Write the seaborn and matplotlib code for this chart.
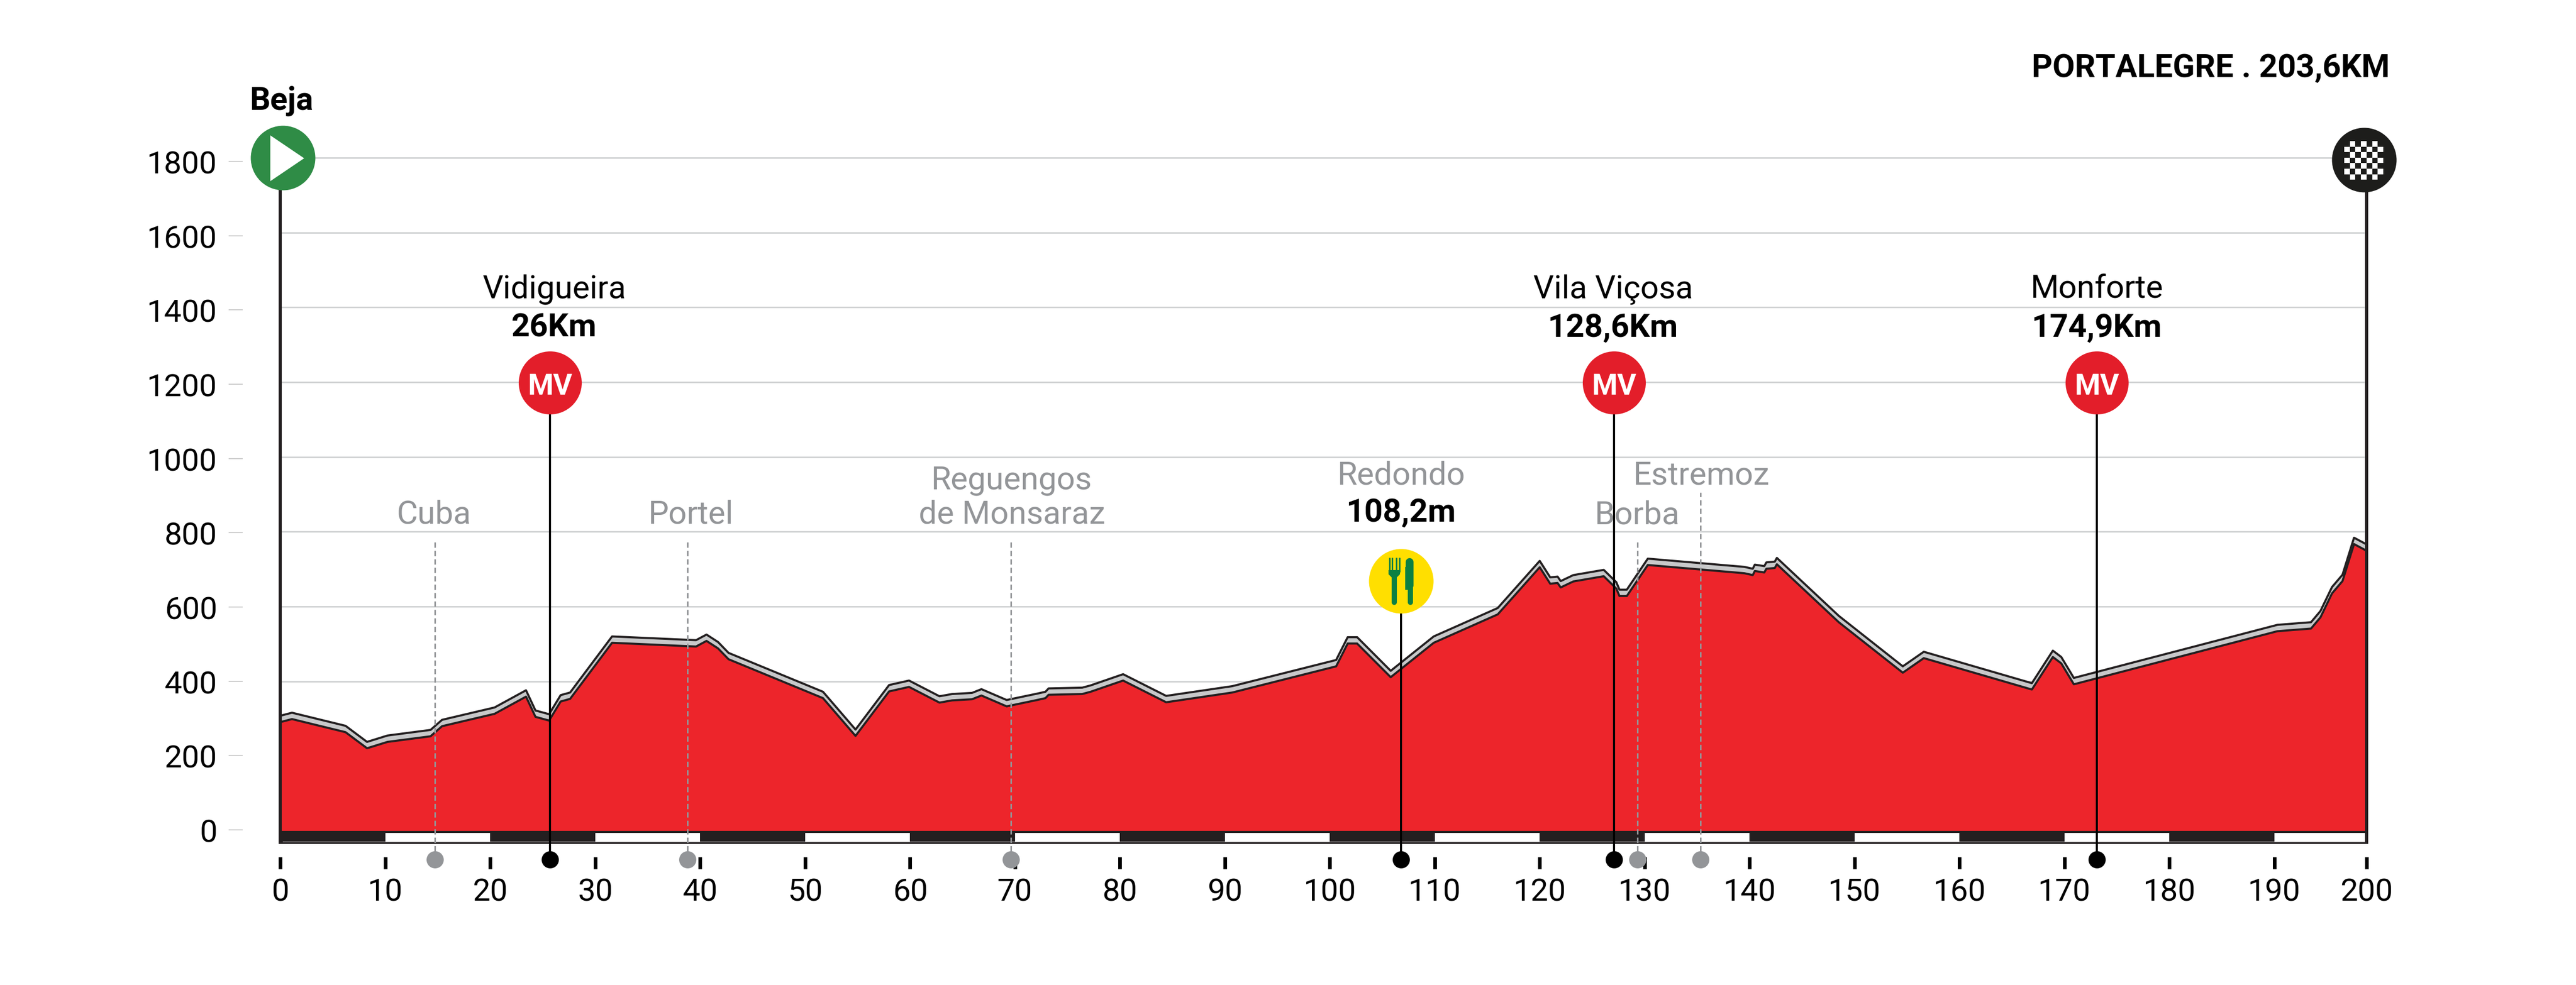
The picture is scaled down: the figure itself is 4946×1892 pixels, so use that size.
import matplotlib
matplotlib.use("Agg")
import matplotlib.pyplot as plt
import seaborn as sns
import numpy as np
import pandas as pd
from matplotlib.patches import Rectangle, Polygon
from matplotlib.lines import Line2D
from matplotlib.transforms import Affine2D

# ---------- data ----------
KM = [0, 1.1, 6.2, 8.25, 10.2, 14.3, 15.4, 20.4, 23.4, 24.3, 25.6, 26.7, 27.6, 31.6, 39.6, 40.6, 41.7, 42.7,
      51.7, 54.8, 58, 59.9, 62.8, 64, 65.9, 66.8, 69.2, 72.1, 72.9, 73.2, 76.4, 77.2, 80.3, 84.4, 90.7,
      100.6, 101.7, 102.6, 105.8, 109.9, 116, 120, 121, 121.7, 122, 123.2, 126.1, 127.3, 127.6, 128.3, 130.3,
      139.5, 140.3, 140.5, 141.4, 141.6, 142.4, 142.6, 148.5, 154.6, 156.6, 166.9, 168.9, 169.7, 170.9,
      190.3, 193.5, 194.4, 195.5, 196.5, 197.6, 198.8]
ELEV = [291, 299, 264, 221, 238, 253, 280, 313, 359, 305, 295, 346, 353, 503, 493, 508, 488, 459,
        355, 254, 373, 385, 343, 349, 352, 362, 333, 350, 355, 364, 366, 372, 402, 344, 370,
        440, 501, 501, 411, 503, 579, 705, 661, 663, 651, 667, 681, 648, 628, 628, 711,
        689, 684, 695, 691, 701, 703, 713, 558, 423, 462, 378, 465, 448, 392,
        534, 541, 571, 635, 668, 767, 749]
BAND = 17
GRID_VALUES = list(range(0, 2000, 200))[1:]
Y_TICKS = list(range(0, 2000, 200))
X_TICKS = [0, 10, 20, 30, 40, 50, 60, 70, 80, 90, 100, 110, 120, 130, 140, 150, 160, 170, 180, 190, 198.8]
X_LABELS = ['0', '10', '20', '30', '40', '50', '60', '70', '80', '90', '100', '110', '120', '130', '140',
            '150', '160', '170', '180', '190', '200']
BLACK_SEG = [0, 20, 40, 60, 80, 100, 120, 140, 160, 180]
WHITE_SEG = [10, 30, 50, 70, 90, 110, 130, 150, 170]
KM_END = 198.8
MV_KM = [25.7, 127.1, 173.1]
MV_LABEL_KM = [26.1, 127.0, 173.1]
MV_NAMES = ['Vidigueira', 'Vila Viçosa', 'Monforte']
MV_DIST = ['26Km', '128,6Km', '174,9Km']
TOWN_KM = [14.7, 38.8, 69.6, 129.3, 135.3]
FEED_KM = 106.8

# ---------- layout ----------
W, H = 4947, 1893
DPI = 300
pt = 72 / DPI
X0, X1, Y0, YT, YB = 538.5, 4544, 1597, 304, 1622
m_per_px = 1800 / (Y0 - YT)
def ey(px):
    return (Y0 - px) * m_per_px

sns.set_theme(style="white")
plt.rcParams['font.family'] = ['Roboto', 'DejaVu Sans']
INK = '#231F20'
RED = '#ED252B'
GREY = '#939598'

fig = plt.figure(figsize=(W / DPI, H / DPI), dpi=DPI, facecolor='white')
ax = fig.add_axes([X0 / W, 1 - YB / H, (X1 - X0) / W, (YB - YT) / H])
ax.set_xlim(0, KM_END)
ax.set_ylim(ey(YB), 1800)
ax.patch.set_alpha(0)
PX = Affine2D().scale(1, -1).translate(0, H)

df = pd.DataFrame({'km': KM, 'elev': ELEV})
df['top'] = df['elev'] + BAND

ax.hlines(GRID_VALUES, 0, KM_END, color='#D1D3D4', lw=3 * pt, zorder=1, clip_on=False)
ax.fill_between(df['km'], 0, df['elev'], color=RED, lw=0, zorder=2)
ax.fill_between(df['km'], df['elev'], df['top'], color='#C8C9CA', lw=0, zorder=3)
for col in ['elev', 'top']:
    sns.lineplot(data=df, x='km', y=col, estimator=None, sort=False, color=INK, lw=4 * pt,
                 ax=ax, zorder=4, legend=False)

# distance bar
bar_bot = ey(YB)
ax.bar(BLACK_SEG, bar_bot, width=10, align='edge', color=INK, lw=0, zorder=4)
ax.bar(WHITE_SEG + [190], bar_bot, width=[10] * 9 + [KM_END - 190], align='edge', color=INK, lw=0, zorder=4)
ax.bar(WHITE_SEG + [190], ey(1618) - ey(1601), bottom=ey(1601), width=[10] * 9 + [KM_END - 190],
       align='edge', color='white', lw=0, zorder=5)
ax.hlines(ey(1617.5), 0.2, KM_END, color='#8A8788', lw=1.5 * pt, zorder=4.5)

# borders
ax.vlines([0, KM_END], bar_bot, 1800, color=INK, lw=6 * pt, zorder=6, clip_on=False)

# town markers
dot_y = ey(1652)
tops = [ey(1041), ey(1041), ey(1041), ey(1041), ey(947)]
for k, t in zip(TOWN_KM, tops):
    ax.plot([k, k], [dot_y, t], color=GREY, lw=3 * pt, ls=(0, (3.4, 2)), zorder=6, clip_on=False)
ax.scatter(TOWN_KM, [dot_y] * len(TOWN_KM), s=(33 * pt) ** 2, color=GREY, lw=0, zorder=7, clip_on=False)
lbl = dict(ha='center', va='baseline', fontsize=62 * pt, zorder=9, clip_on=False)
for k, name, base in [(14.6, 'Cuba', 1006), (39.1, 'Portel', 1006), (69.7, 'Reguengos', 940),
                      (69.7, 'de Monsaraz', 1006), (129.3, 'Borba', 1007), (135.4, 'Estremoz', 931),
                      (106.8, 'Redondo', 931)]:
    ax.text(k, ey(base), name, color=GREY, **lbl)
ax.text(106.8, ey(1002), '108,2m', color='black', fontweight='bold', **lbl)

# main markers
CIRC = (124 * pt) ** 2
ax.vlines(MV_KM, dot_y, 1200, color='black', lw=4 * pt, zorder=6, clip_on=False)
ax.vlines([FEED_KM], dot_y, 668, color='black', lw=4 * pt, zorder=6, clip_on=False)
ax.scatter(MV_KM + [FEED_KM], [dot_y] * 4, s=(33 * pt) ** 2, color='black', lw=0, zorder=7, clip_on=False)
ax.scatter(MV_KM, [1198] * 3, s=(121 * pt) ** 2, color='#E31E2A', lw=0, zorder=7, clip_on=False)
ax.scatter([FEED_KM], [668], s=CIRC, color='#FFDF00', lw=0, zorder=7, clip_on=False)
ax.scatter([0.2], [1800], s=CIRC, color='#2F8C46', lw=0, zorder=7, clip_on=False)
ax.scatter([KM_END - 0.25], [1794], s=CIRC, color='#1D1D1B', lw=0, zorder=7, clip_on=False)
for k, lk, n, d in zip(MV_KM, MV_LABEL_KM, MV_NAMES, MV_DIST):
    ax.text(lk, ey(573), n, color='black', **lbl)
    ax.text(lk, ey(647), d, color='black', fontweight='bold', **lbl)
    ax.text(k, ey(758), 'MV', color='white', fontweight='bold', ha='center', va='baseline',
            fontsize=56 * pt, zorder=9, clip_on=False)
ax.text(0.1, ey(211), 'Beja', color='black', fontweight='bold', **lbl)
ax.text(KM_END + 2.2, ey(148), 'PORTALEGRE . 203,6KM', color='black', fontweight='bold', ha='right',
        va='baseline', fontsize=62 * pt, zorder=9, clip_on=False)

# icons, drawn in picture pixels
fig.add_artist(Polygon([(519, 261), (584, 305), (519, 349)], closed=True, fc='white', ec='none', transform=PX))
for r in range(7):
    for c in range(7):
        if (r + c) % 2 == 1:
            fig.add_artist(Rectangle((4501 + c * 10.7, 272 + r * 10.6), 10.7, 10.6, fc='white', ec='none',
                                     lw=0, transform=PX))
GREEN = '#0B8043'
def icon(xs, ys, w, cap='round'):
    fig.add_artist(Line2D(xs, ys, color=GREEN, lw=w * pt, solid_capstyle=cap, transform=PX))
for x in [2667.5, 2673, 2681, 2686.5]:
    icon([x, x], [1072, 1100], 3, 'butt')
fig.add_artist(Polygon([(2666, 1096), (2688, 1096), (2688, 1104), (2682, 1110), (2672, 1110), (2666, 1104)],
                       closed=True, fc=GREEN, ec='none', transform=PX))
icon([2677, 2677], [1105, 1158], 10)
icon([2705.5, 2705.5], [1080, 1125], 15)
fig.add_artist(Rectangle((2698, 1090), 8, 44, fc=GREEN, ec='none', lw=0, transform=PX))
icon([2708, 2708], [1125, 1158], 10)

# x axis
ax.set_xticks(X_TICKS)
ax.set_xticklabels(X_LABELS)
ax.set_yticks([])
for s in ax.spines.values():
    s.set_visible(False)
ax.spines['bottom'].set_position(('outward', 25 * pt))
ax.tick_params(axis='x', direction='out', bottom=True, length=23 * pt, width=7 * pt, color='black',
               pad=16 * pt, labelsize=60 * pt, labelcolor='black')
ax.set_xlabel('')
ax.set_ylabel('')

# y axis, whose scale sits a little off the grid in the reference
ay = fig.add_axes([466 / W, 1 - 1595 / H, 40 / W, (1595 - 311) / H], zorder=-1)
ay.patch.set_alpha(0)
ay.set_ylim(0, 1800)
ay.set_xticks([])
ay.set_yticks(Y_TICKS)
ay.set_yticklabels([str(v) for v in Y_TICKS])
for s in ay.spines.values():
    s.set_visible(False)
ay.tick_params(axis='y', direction='out', left=True, length=27 * pt, width=1.5 * pt, color='#BDBDBD',
               pad=22 * pt, labelsize=60 * pt, labelcolor='black')

fig.savefig('out.png', dpi=DPI, facecolor='white')
